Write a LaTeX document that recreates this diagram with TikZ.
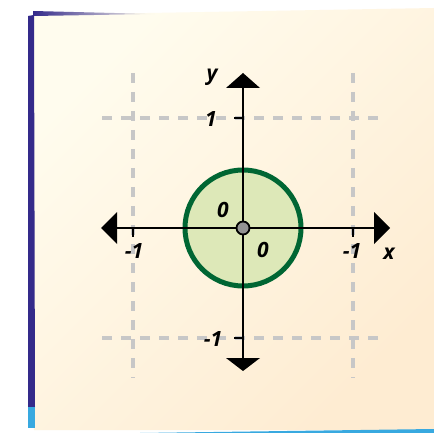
\documentclass[tikz,border=0pt]{standalone}
\usepackage{fontspec}
\setmainfont{Open Sans}
\definecolor{navy}{RGB}{52,42,138}
\definecolor{sky}{RGB}{56,169,224}
\definecolor{ringgreen}{RGB}{0,102,51}
\definecolor{discgreen}{RGB}{221,232,184}
\definecolor{paperA}{RGB}{255,252,238}
\definecolor{paperB}{RGB}{254,236,210}
\begin{document}
\begin{tikzpicture}[x=1pt,y=-1pt,
  lbl/.style={font=\fontsize{21}{21}\selectfont\bfseries\itshape, inner sep=0pt},
  grid/.style={draw=black!22, line width=3.3pt, dash pattern=on 10pt off 9pt},
  axis/.style={line width=2.4pt, draw=black},
  tick/.style={line width=2.2pt, draw=black}]
\useasboundingbox (0,0) rectangle (434,433);
\fill[white] (0,0) rectangle (434,433);
% page
\shade[top color=paperA, bottom color=paperB, shading angle=45] (33,15) -- (434,8) -- (434,430) -- (34,430) -- cycle;
% left stripes
\fill[navy] (28,16) -- (34,15) -- (35,407) -- (28,407) -- cycle;
\fill[sky] (28,407) -- (35,407) -- (35,428) -- (28,428) -- cycle;
% top strip
\shade[left color=navy, right color=navy!0!paperA] (33,11) -- (155,14) -- (33,16) -- cycle;
% bottom strip
\fill[sky] (140,433) -- (434,429) -- (434,433) -- cycle;
% grid
\draw[grid] (133,73) -- (133,378);
\draw[grid] (353,73) -- (353,378);
\draw[grid] (102,118) -- (383,118);
\draw[grid] (102,338) -- (383,338);
% circle
\node[circle, draw=ringgreen, line width=5pt, fill=discgreen, minimum size=116pt, inner sep=0pt] (c) at (243,228) {};
% axes
\coordinate (xl) at (101,228);
\coordinate (xr) at (390,228);
\coordinate (yt) at (243,73);
\coordinate (yb) at (243,371);
\draw[axis] (117,228) -- (374,228);
\draw[axis] (243,88) -- (243,358);
\fill (xl) -- (117,212) -- (117,244) -- cycle;
\fill (xr) -- (374,212) -- (374,244) -- cycle;
\fill (yt) -- (226,88) -- (260,88) -- cycle;
\fill (yb) -- (226,358) -- (260,358) -- cycle;
% ticks
\draw[tick] (133,228) -- (133,237);
\draw[tick] (353,228) -- (353,237);
\draw[tick] (234,118) -- (243,118);
\draw[tick] (234,338) -- (243,338);
% center dot
\node[circle, draw=black, line width=1.8pt, fill=gray!85, minimum size=13pt, inner sep=0pt] (o) at (243,228) {};
% labels
\node[lbl] (ly) at (212,77) {y};
\node[lbl] (lx) at (389,254) {x};
\node[lbl] (l1) at (211,119) {1};
\node[lbl] (lm1) at (213,339) {-1};
\node[lbl] (lxm1) at (134,251) {-1};
\node[lbl] (lxp1) at (352,251) {-1};
\node[lbl] (z1) at (223,210) {0};
\node[lbl] (z2) at (263,250) {0};
\end{tikzpicture}
\end{document}
